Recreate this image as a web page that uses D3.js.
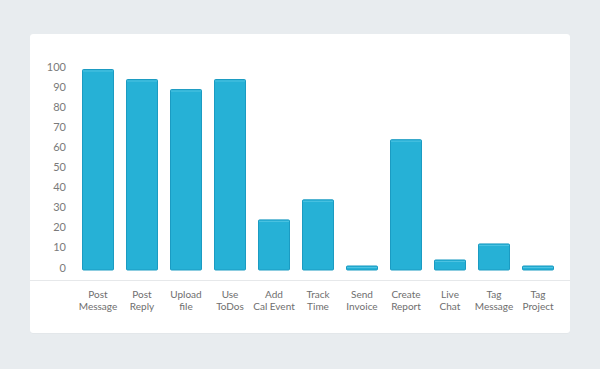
<!DOCTYPE html>
<html>
<head>
<meta charset="utf-8">
<script src="https://cdn.jsdelivr.net/npm/d3@7"></script>
<style>
  html, body { margin: 0; padding: 0; background: #e8ecef; }
  svg { display: block; }
  text { font-family: Lato, "Open Sans", sans-serif; }
</style>
</head>
<body>
<svg id="chart" width="600" height="369"></svg>
<script>
const categories = [
  ["Post", "Message"], ["Post", "Reply"], ["Upload", "file"], ["Use", "ToDos"],
  ["Add", "Cal Event"], ["Track", "Time"], ["Send", "Invoice"], ["Create", "Report"],
  ["Live", "Chat"], ["Tag", "Message"], ["Tag", "Project"]
];
const values = [100, 95, 90, 95, 25, 35, 2, 65, 5, 13, 2];
const yTicks = [0, 10, 20, 30, 40, 50, 60, 70, 80, 90, 100];

const svg = d3.select("#chart");

// card
svg.append("rect")
  .attr("x", 30).attr("y", 34).attr("width", 540).attr("height", 299.5)
  .attr("rx", 3).attr("fill", "#dde2e6");
svg.append("rect")
  .attr("x", 30).attr("y", 34).attr("width", 540).attr("height", 299)
  .attr("rx", 3).attr("fill", "#ffffff");

const keys = categories.map(c => c.join(" "));
const x = d3.scaleBand().domain(keys).range([76, 560]).paddingInner(12 / 44).paddingOuter(6 / 44);
const y = d3.scaleLinear().domain([0, 100]).range([270, 69.5]);

// baseline separator
svg.append("line")
  .attr("x1", 30).attr("x2", 570).attr("y1", 280.5).attr("y2", 280.5)
  .attr("stroke", "#e6e8ea").attr("stroke-width", 1);

// y axis labels
const yAxis = d3.axisLeft(y).tickValues(yTicks).tickSize(0).tickPadding(0);
const gy = svg.append("g").attr("transform", "translate(66,-2.5)").call(yAxis);
gy.select(".domain").remove();
gy.selectAll("text").attr("fill", "#7a7a7a").attr("font-size", 11).attr("font-family", "Lato, 'Open Sans', sans-serif");

// bars
const bars = svg.append("g");
bars.selectAll("rect.bar").data(values).join("rect")
  .attr("class", "bar")
  .attr("x", (d, i) => x(keys[i]) + 0.5)
  .attr("y", d => y(d))
  .attr("width", x.bandwidth() - 1)
  .attr("height", d => y(0) - y(d))
  .attr("rx", 1)
  .attr("fill", "#26b1d6")
  .attr("stroke", "#1b9bc2")
  .attr("stroke-width", 1);
bars.selectAll("line.hl").data(values).join("line")
  .attr("class", "hl")
  .attr("x1", (d, i) => x(keys[i]) + 1)
  .attr("x2", (d, i) => x(keys[i]) + x.bandwidth() - 1)
  .attr("y1", d => y(d) + 1.5)
  .attr("y2", d => y(d) + 1.5)
  .attr("stroke", "#4ec3e2")
  .attr("stroke-width", 1);

// x labels
const xl = svg.append("g");
categories.forEach((c, i) => {
  const t = xl.append("text")
    .attr("x", x(keys[i]) + x.bandwidth() / 2)
    .attr("y", 298)
    .attr("text-anchor", "middle")
    .attr("fill", "#6e6e6e")
    .attr("font-size", 10);
  c.forEach((line, j) => {
    t.append("tspan").attr("x", x(keys[i]) + x.bandwidth() / 2).attr("dy", j === 0 ? 0 : 11.5).text(line);
  });
});
</script>
</body>
</html>
